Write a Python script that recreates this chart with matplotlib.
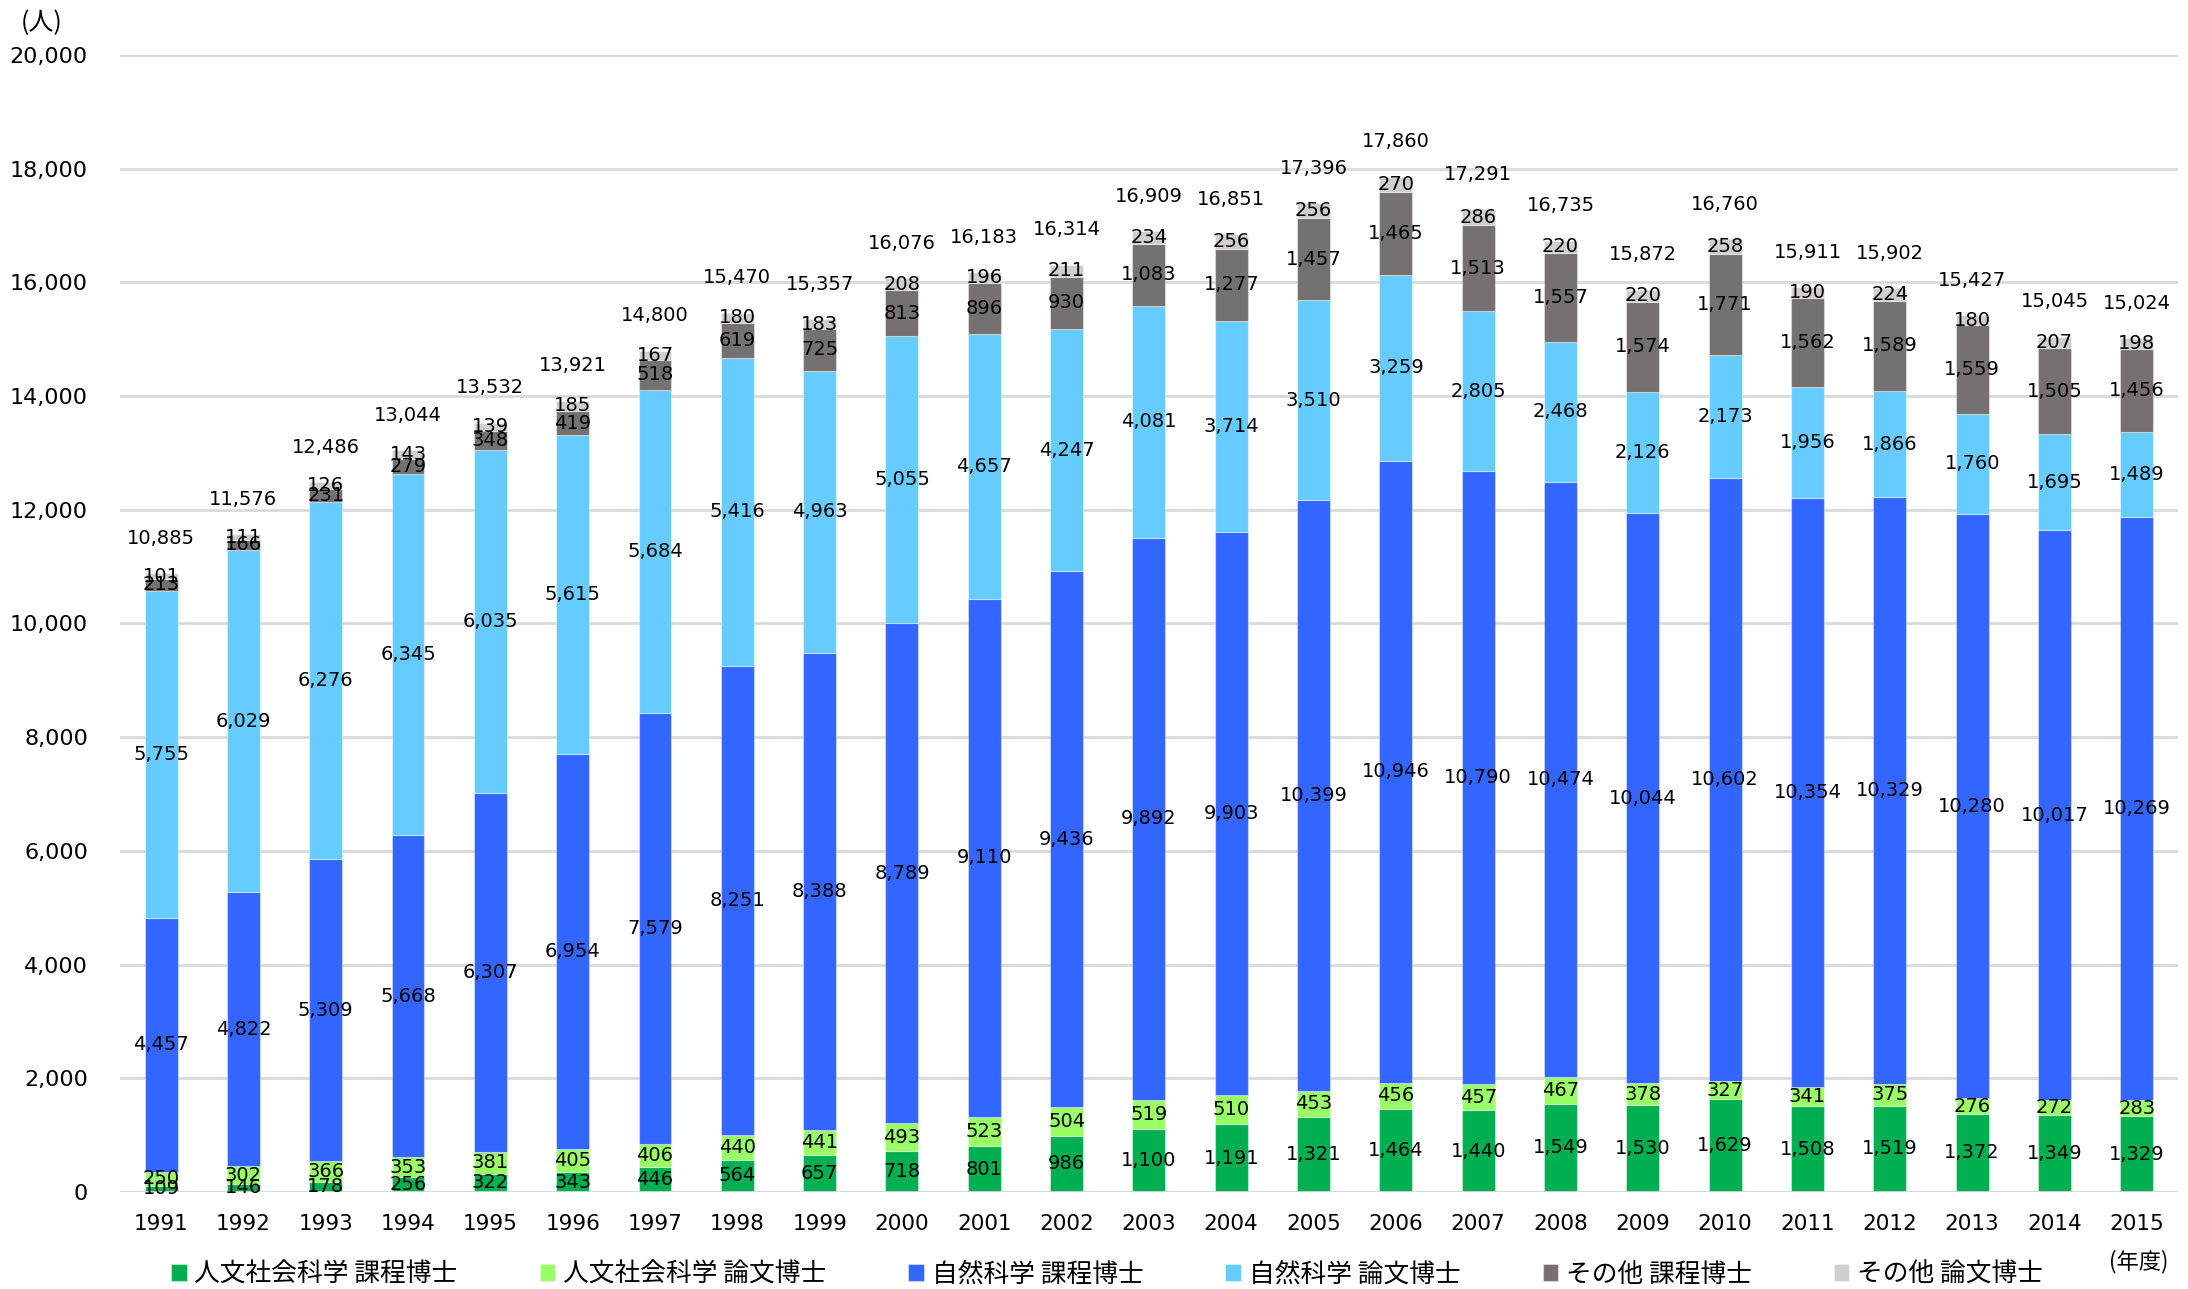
import numpy as np
import matplotlib.pyplot as plt
from matplotlib.ticker import FuncFormatter

plt.rcParams['font.family'] = ['DejaVu Sans', 'Noto Sans CJK JP']

years = [str(y) for y in range(1991, 2016)]

# 人文社会科学
hum_course = [109, 146, 178, 256, 322, 343, 446, 564, 657, 718, 801, 986, 1100,
              1191, 1321, 1464, 1440, 1549, 1530, 1629, 1508, 1519, 1372, 1349, 1329]
hum_thesis = [250, 302, 366, 353, 381, 405, 406, 440, 441, 493, 523, 504, 519,
              510, 453, 456, 457, 467, 378, 327, 341, 375, 276, 272, 283]
# 自然科学
nat_course = [4457, 4822, 5309, 5668, 6307, 6954, 7579, 8251, 8388, 8789, 9110, 9436, 9892,
              9903, 10399, 10946, 10790, 10474, 10044, 10602, 10354, 10329, 10280, 10017, 10269]
nat_thesis = [5755, 6029, 6276, 6345, 6035, 5615, 5684, 5416, 4963, 5055, 4657, 4247, 4081,
              3714, 3510, 3259, 2805, 2468, 2126, 2173, 1956, 1866, 1760, 1695, 1489]
# その他
oth_course = [213, 166, 231, 279, 348, 419, 518, 619, 725, 813, 896, 930, 1083,
              1277, 1457, 1465, 1513, 1557, 1574, 1771, 1562, 1589, 1559, 1505, 1456]
oth_thesis = [101, 111, 126, 143, 139, 185, 167, 180, 183, 208, 196, 211, 234,
              256, 256, 270, 286, 220, 220, 258, 190, 224, 180, 207, 198]

series = [
    ("人文社会科学 課程博士", hum_course, "#00B050"),
    ("人文社会科学 論文博士", hum_thesis, "#99FF66"),
    ("自然科学 課程博士", nat_course, "#3366FF"),
    ("自然科学 論文博士", nat_thesis, "#66CCFF"),
    ("その他 課程博士", oth_course, "#767171"),
    ("その他 論文博士", oth_thesis, "#D0CECE"),
]

fig = plt.figure(figsize=(21.88, 12.89), dpi=100)
ax = fig.add_axes([0.0548, 0.0753, 0.9406, 0.882])

x = np.arange(len(years))
bottom = np.zeros(len(years))
handles = []
for name, vals, col in series:
    vals = np.array(vals, dtype=float)
    bars = ax.bar(x, vals, width=0.40, bottom=bottom, color=col,
                  edgecolor=(1, 1, 1, 0.4), linewidth=0.8, zorder=3)
    handles.append(bars)
    for xi, b, v in zip(x, bottom, vals):
        ax.text(xi, b + v / 2, f"{int(v):,}", ha='center', va='center',
                fontsize=14, color='black', zorder=5)
    bottom += vals

# 合計
for xi, tot in zip(x, bottom):
    ax.annotate(f"{int(tot):,}", (xi, tot), xytext=(0, 25), textcoords='offset points',
                ha='center', va='center', fontsize=14, zorder=5)

ax.set_xlim(-0.5, len(years) - 0.5)
ax.set_ylim(0, 20000)
ax.set_yticks(range(0, 20001, 2000))
ax.yaxis.set_major_formatter(FuncFormatter(lambda v, p: f"{int(v):,}"))
ax.set_xticks(x)
ax.set_xticklabels(years)
ax.tick_params(axis='both', length=0)
ax.tick_params(axis='x', pad=16, labelsize=15.5)
ax.tick_params(axis='y', pad=23, labelsize=16)
ax.grid(axis='y', color='#D9D9D9', linewidth=2, zorder=0)
for s in ax.spines.values():
    s.set_visible(False)
ax.axhline(0, color='#D9D9D9', linewidth=2, zorder=4)

fig.text(0.0095, 0.982, "(人)", fontsize=18, family=['Noto Sans CJK JP'], va='center')
fig.text(0.9775, 0.021, "(年度)", fontsize=16, family=['Noto Sans CJK JP'], va='center', ha='center')

fig.legend(handles, [s[0] for s in series], loc='center', bbox_to_anchor=(0.506, 0.0112),
           ncol=6, frameon=False, prop={'family': ['Noto Sans CJK JP'], 'size': 18.5},
           handlelength=0.6, handleheight=0.6, handletextpad=0.3, columnspacing=3.2,
           borderpad=0, borderaxespad=0)

fig.savefig("out.png", dpi=100)
